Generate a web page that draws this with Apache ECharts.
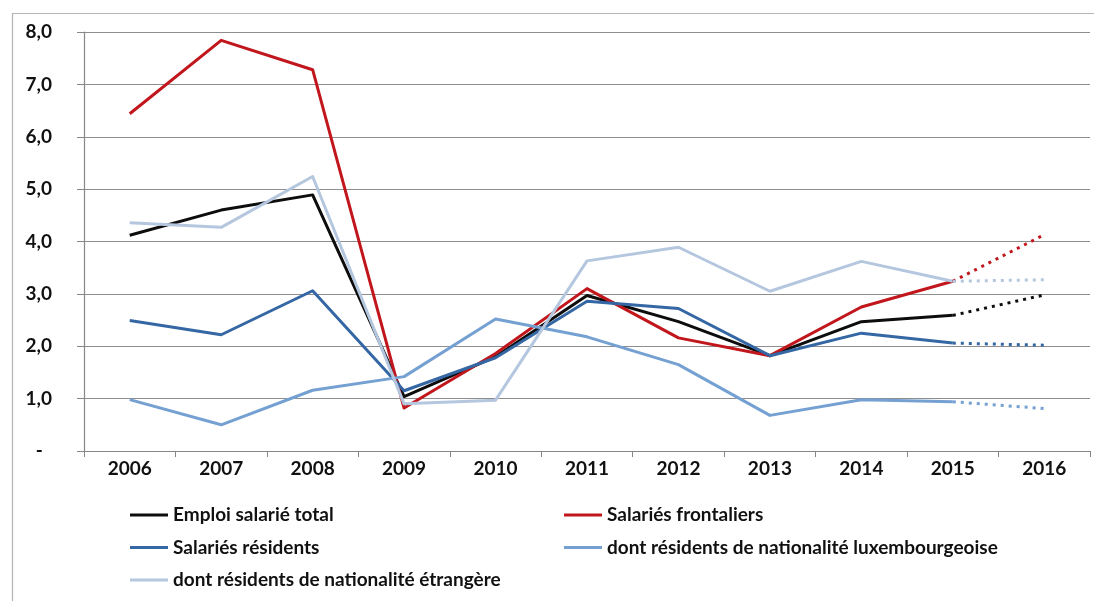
<!DOCTYPE html>
<html>
<head>
<meta charset="utf-8">
<script src="https://cdn.jsdelivr.net/npm/echarts@6/dist/echarts.min.js"></script>
<style>
  html, body { margin: 0; padding: 0; background: #ffffff; }
  #chart { width: 1094px; height: 601px; }
</style>
</head>
<body>
<div id="chart"></div>
<script>
// Annual growth of salaried employment (%), 2016 being an estimate
const years = ['2006', '2007', '2008', '2009', '2010', '2011', '2012', '2013', '2014', '2015', '2016'];
const emploiTotal = [4.12, 4.60, 4.89, 1.04, 1.80, 2.97, 2.47, 1.82, 2.47, 2.59, 2.98];
const frontaliers = [6.44, 7.84, 7.28, 0.82, 1.86, 3.10, 2.16, 1.82, 2.75, 3.24, 4.13];
const residents = [2.49, 2.22, 3.06, 1.15, 1.78, 2.86, 2.72, 1.82, 2.25, 2.06, 2.02];
const residentsLux = [0.98, 0.50, 1.16, 1.42, 2.52, 2.18, 1.65, 0.68, 0.98, 0.94, 0.81];
const residentsEtr = [4.36, 4.27, 5.24, 0.90, 0.97, 3.63, 3.89, 3.05, 3.62, 3.24, 3.27];
const yTicks = { min: 0, max: 8, step: 1 };
const lastObserved = 9; // index of 2015: the step to 2016 is drawn dotted

const seriesDefs = [
  { name: 'Emploi salarié total', data: emploiTotal, color: '#0d0d0d' },
  { name: 'Salariés frontaliers', data: frontaliers, color: '#c0161c' },
  { name: 'Salariés résidents', data: residents, color: '#3567a4' },
  { name: 'dont résidents de nationalité luxembourgeoise', data: residentsLux, color: '#74a0d2' },
  { name: 'dont résidents de nationalité étrangère', data: residentsEtr, color: '#b4c7df' }
];

const series = [];
seriesDefs.forEach(function (d) {
  series.push({
    name: d.name,
    type: 'line',
    symbol: 'none',
    data: d.data.map(function (v, i) { return i <= lastObserved ? v : null; }),
    lineStyle: { color: d.color, width: 3, join: 'round' },
    itemStyle: { color: d.color }
  });
});
seriesDefs.forEach(function (d) {
  series.push({
    name: d.name + ' (prévision)',
    type: 'line',
    symbol: 'none',
    data: d.data.map(function (v, i) { return i >= lastObserved ? v : null; }),
    lineStyle: { color: d.color, width: 3, type: [3, 5] },
    itemStyle: { color: d.color }
  });
});

const labelFont = {
  fontFamily: 'Lato',
  fontWeight: 'bold',
  fontSize: 19,
  color: '#111111'
};
const legendText = Object.assign({ lineHeight: 22 }, labelFont);

const legendBase = {
  orient: 'vertical',
  top: 504,
  padding: 0,
  itemWidth: 38,
  itemHeight: 3,
  itemGap: 10.5,
  icon: 'rect',
  textStyle: legendText
};

const chart = echarts.init(document.getElementById('chart'), null, { renderer: 'canvas' });
chart.setOption({
  animation: false,
  backgroundColor: '#ffffff',
  graphic: [{
    type: 'rect',
    left: 10,
    top: 11,
    shape: { width: 1200, height: 700 },
    style: { fill: 'none', stroke: '#b4b4b4', lineWidth: 1.2 },
    silent: true
  }],
  grid: { left: 84, top: 32, right: 4, bottom: 150, containLabel: false },
  xAxis: {
    type: 'category',
    data: years,
    boundaryGap: true,
    axisLine: { show: true, lineStyle: { color: '#878787', width: 1.2 } },
    axisTick: { show: true, alignWithLabel: false, length: 6, lineStyle: { color: '#878787' } },
    axisLabel: Object.assign({ margin: 8 }, labelFont),
    splitLine: { show: false }
  },
  yAxis: {
    type: 'value',
    min: yTicks.min,
    max: yTicks.max,
    interval: yTicks.step,
    axisLine: { show: true, lineStyle: { color: '#878787', width: 1.2 } },
    axisTick: { show: true, length: 7, lineStyle: { color: '#878787' } },
    axisLabel: Object.assign({
      margin: 32,
      formatter: function (v) {
        return v === 0 ? '-  ' : v.toFixed(1).replace('.', ',');
      }
    }, labelFont),
    splitLine: { show: true, lineStyle: { color: '#8e8e8e', width: 1.2 } }
  },
  legend: [
    Object.assign({ left: 130, data: [seriesDefs[0].name, seriesDefs[2].name, seriesDefs[4].name] }, legendBase),
    Object.assign({ left: 564, data: [seriesDefs[1].name, seriesDefs[3].name] }, legendBase)
  ],
  series: series
});
</script>
</body>
</html>
